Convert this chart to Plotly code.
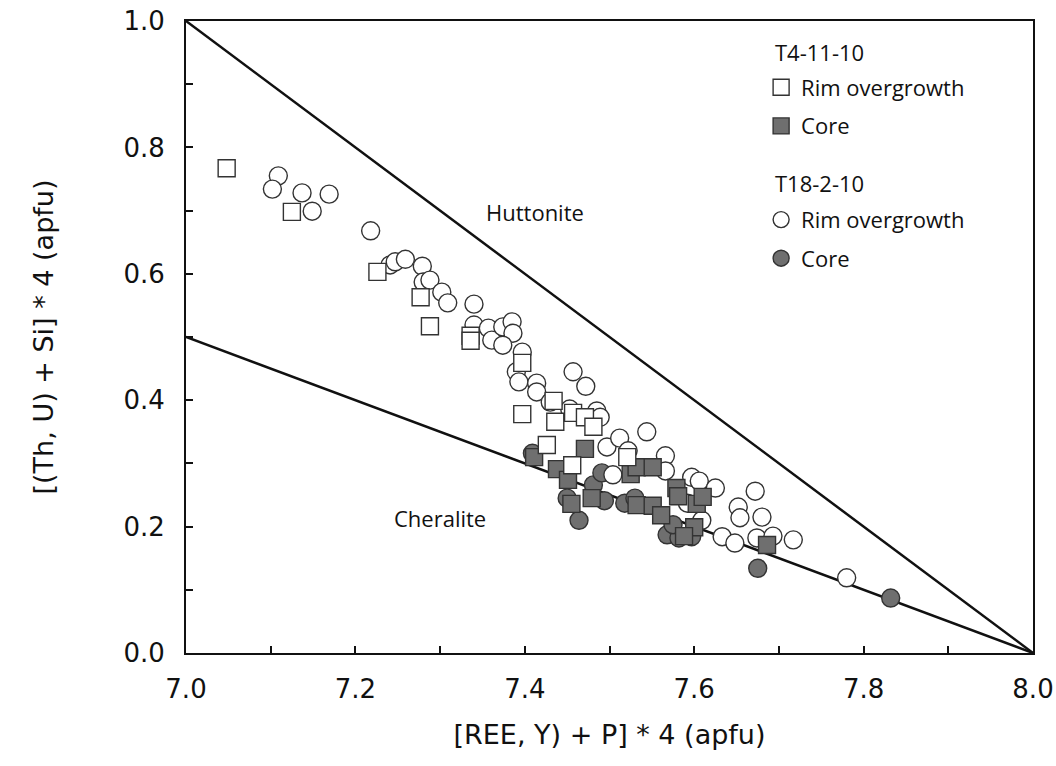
import plotly.graph_objects as go

# T4-11-10 rim overgrowth (open squares)
t4_rim_x = [7.048, 7.125, 7.226, 7.277, 7.288, 7.336, 7.336, 7.397, 7.397, 7.434,
            7.436, 7.457, 7.471, 7.481, 7.426, 7.456, 7.521]
t4_rim_y = [0.767, 0.698, 0.603, 0.563, 0.517, 0.502, 0.494, 0.459, 0.378, 0.399,
            0.366, 0.380, 0.373, 0.358, 0.329, 0.297, 0.310]

# T4-11-10 core (grey squares)
t4_core_x = [7.411, 7.438, 7.451, 7.471, 7.455, 7.479, 7.525, 7.532, 7.551, 7.532,
             7.551, 7.561, 7.579, 7.581, 7.603, 7.610, 7.600, 7.588, 7.686]
t4_core_y = [0.310, 0.291, 0.274, 0.323, 0.236, 0.245, 0.283, 0.294, 0.294, 0.234,
             0.233, 0.218, 0.261, 0.248, 0.236, 0.247, 0.199, 0.185, 0.171]

# T18-2-10 rim overgrowth (open circles)
t18_rim_x = [7.109, 7.102, 7.137, 7.169, 7.149, 7.218, 7.241, 7.247, 7.259, 7.279,
             7.280, 7.288, 7.302, 7.309, 7.340, 7.340, 7.357, 7.361, 7.374, 7.385,
             7.386, 7.374, 7.397, 7.390, 7.393, 7.414, 7.414, 7.430, 7.457, 7.472,
             7.453, 7.485, 7.489, 7.497, 7.512, 7.544, 7.522, 7.566, 7.566, 7.504,
             7.597, 7.606, 7.625, 7.592, 7.609, 7.633, 7.648, 7.672, 7.652, 7.654,
             7.680, 7.674, 7.693, 7.717, 7.780]
t18_rim_y = [0.755, 0.734, 0.728, 0.726, 0.699, 0.668, 0.614, 0.619, 0.623, 0.612,
             0.587, 0.590, 0.571, 0.554, 0.552, 0.519, 0.514, 0.495, 0.516, 0.524,
             0.506, 0.487, 0.476, 0.445, 0.429, 0.427, 0.413, 0.397, 0.445, 0.422,
             0.386, 0.383, 0.373, 0.326, 0.340, 0.350, 0.320, 0.312, 0.288, 0.282,
             0.278, 0.272, 0.261, 0.237, 0.210, 0.184, 0.174, 0.256, 0.231, 0.214,
             0.215, 0.182, 0.185, 0.179, 0.119]

# T18-2-10 core (grey circles)
t18_core_x = [7.409, 7.450, 7.464, 7.481, 7.491, 7.494, 7.518, 7.530, 7.568, 7.582,
              7.597, 7.575, 7.675, 7.832]
t18_core_y = [0.316, 0.245, 0.210, 0.266, 0.285, 0.241, 0.237, 0.245, 0.187, 0.182,
              0.184, 0.203, 0.134, 0.087]

# Boundary lines
hutt_x = [7.0, 8.0]
hutt_y = [1.0, 0.0]
cher_x = [7.0, 8.0]
cher_y = [0.5, 0.0]

GREY = "#6f6f6f"
EDGE = "#333333"
SANS = "Open Sans, Noto Sans, sans-serif"
LEG_FONT = dict(family=SANS, size=22, color="#111")

fig = go.Figure()

fig.add_trace(go.Scatter(x=hutt_x, y=hutt_y, mode="lines",
                         line=dict(color="#111", width=2.5), showlegend=False, hoverinfo="skip"))
fig.add_trace(go.Scatter(x=cher_x, y=cher_y, mode="lines",
                         line=dict(color="#111", width=2.5), showlegend=False, hoverinfo="skip"))

fig.add_trace(go.Scatter(x=t18_core_x, y=t18_core_y, mode="markers", name="Core",
                         marker=dict(symbol="circle", size=18, color=GREY,
                                     line=dict(color=EDGE, width=1.4)),
                         legend="legend2", legendgroup="c2", legendrank=2))
fig.add_trace(go.Scatter(x=t18_rim_x, y=t18_rim_y, mode="markers", name="Rim overgrowth",
                         marker=dict(symbol="circle", size=18, color="white",
                                     line=dict(color=EDGE, width=1.4)),
                         legend="legend2", legendgroup="r2", legendrank=1))
fig.add_trace(go.Scatter(x=t4_core_x, y=t4_core_y, mode="markers", name="Core",
                         marker=dict(symbol="square", size=17, color=GREY,
                                     line=dict(color=EDGE, width=1.4)),
                         legend="legend", legendgroup="c1", legendrank=2))
fig.add_trace(go.Scatter(x=t4_rim_x, y=t4_rim_y, mode="markers", name="Rim overgrowth",
                         marker=dict(symbol="square", size=17, color="white",
                                     line=dict(color=EDGE, width=1.4)),
                         legend="legend", legendgroup="r1", legendrank=1))

fig.add_annotation(x=7.412, y=0.698, text="Huttonite", showarrow=False,
                   font=dict(family=SANS, size=22, color="#111"))
fig.add_annotation(x=7.30, y=0.214, text="Cheralite", showarrow=False,
                   font=dict(family=SANS, size=22, color="#111"))
# legend group headings
fig.add_annotation(x=0.693, y=0.951, xref="paper", yref="paper", xanchor="left", yanchor="middle",
                   text="T4-11-10", showarrow=False, font=LEG_FONT)
fig.add_annotation(x=0.693, y=0.7437, xref="paper", yref="paper", xanchor="left", yanchor="middle",
                   text="T18-2-10", showarrow=False, font=LEG_FONT)

TICK_FONT = dict(family="DejaVu Sans, Liberation Sans, sans-serif", size=26, color="#111")
TITLE_FONT = dict(family="DejaVu Sans, Liberation Sans, sans-serif", size=27, color="#111")

fig.update_layout(
    width=1056, height=766,
    margin=dict(l=186, r=23, t=21, b=113),
    plot_bgcolor="white", paper_bgcolor="white",
    legend=dict(font=LEG_FONT, x=0.679, y=0.928, xanchor="left", yanchor="top",
                tracegroupgap=7, bgcolor="rgba(0,0,0,0)", traceorder="grouped"),
    legend2=dict(font=LEG_FONT, x=0.679, y=0.7187, xanchor="left", yanchor="top",
                 tracegroupgap=7, bgcolor="rgba(0,0,0,0)", traceorder="grouped"),
    xaxis=dict(range=[7.0, 8.0], dtick=0.2, tick0=7.0, tickformat=".1f",
               showgrid=False, zeroline=False, automargin=False,
               showline=True, linecolor="#111", linewidth=2, mirror=True,
               ticks="inside", ticklen=7, tickwidth=1.5, tickcolor="#111",
               minor=dict(dtick=0.1, ticks="inside", ticklen=7, tickwidth=1.5, tickcolor="#111"),
               tickfont=TICK_FONT, ticklabelstandoff=12,
               title=dict(text="[REE, Y) + P] * 4 (apfu)", font=TITLE_FONT, standoff=22)),
    yaxis=dict(range=[0.0, 1.0], dtick=0.2, tick0=0.0, tickformat=".1f",
               showgrid=False, zeroline=False, automargin=False,
               showline=True, linecolor="#111", linewidth=2, mirror=True,
               ticks="inside", ticklen=7, tickwidth=1.5, tickcolor="#111",
               minor=dict(dtick=0.1, ticks="inside", ticklen=7, tickwidth=1.5, tickcolor="#111"),
               tickfont=TICK_FONT, ticklabelstandoff=14,
               title=dict(text="[(Th, U) + Si] * 4 (apfu)", font=TITLE_FONT, standoff=62)),
)

fig.write_html("out.html")
